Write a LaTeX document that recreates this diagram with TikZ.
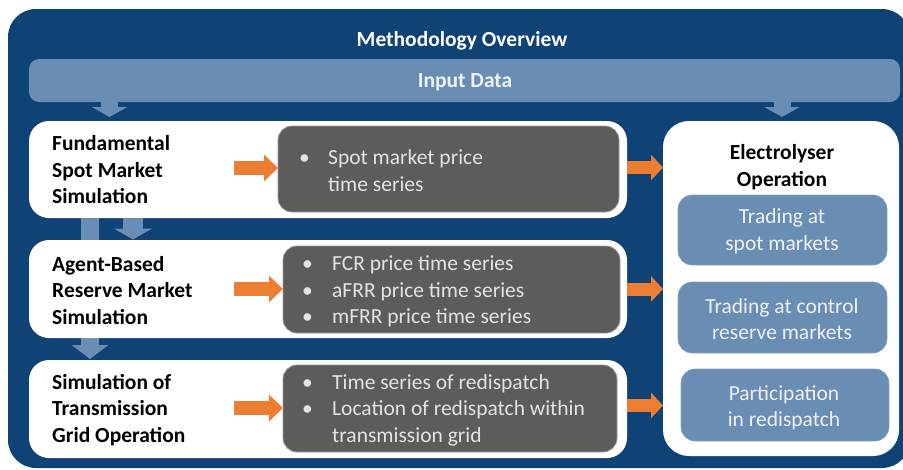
\documentclass[tikz,border=0pt]{standalone}
\usepackage{fontspec}
\setmainfont{Carlito}
\usetikzlibrary{arrows.meta,fit}
\definecolor{navy}{HTML}{0F4275}
\definecolor{steel}{HTML}{6A8DB4}
\definecolor{darkgrey}{HTML}{5D5C5A}
\definecolor{orng}{HTML}{ED7D31}
\definecolor{greytext}{HTML}{E3E3E3}
\definecolor{steeltext}{HTML}{EEF2F7}
\definecolor{edgegrey}{HTML}{9A9A9A}
\newcommand{\fs}{\fontsize{21.5}{26.5}\selectfont}
\begin{document}
\begin{tikzpicture}[x=1pt,y=-1pt,
  box/.style={inner sep=0pt, outer sep=0pt},
  whitebox/.style={box, fill=white, rounded corners=20pt},
  greybox/.style={box, fill=darkgrey, draw=edgegrey, line width=0.8pt, rounded corners=14pt},
  steelbox/.style={box, fill=steel, draw=steel!80!white, line width=0.6pt, rounded corners=14pt},
  lbl/.style={font=\fs\bfseries, align=left, anchor=west, text=black, inner sep=0pt},
  glist/.style={font=\fs, align=left, anchor=west, text=greytext, inner sep=0pt},
  stext/.style={font=\fs, align=center, text=steeltext, inner sep=0pt},
  orarrowA/.style={draw=orng, line width=14pt, -{Triangle[length=14pt,width=26pt]}, orng},
  orarrowB/.style={draw=orng, line width=13pt, -{Triangle[length=12pt,width=25pt]}, orng},
  inarrow/.style={draw=steel, line width=17pt, -{Triangle[length=10pt,width=35pt]}, steel},
]
\useasboundingbox (0,0) rectangle (903,469);
% outer frame
\node[box, fill=navy, rounded corners=28pt, fit={(8,9) (910,468)}] (outer) {};
\node[font=\fs\bfseries, text=white, inner sep=0pt] (title) at (462,41) {Methodology Overview};
% input bar
\node[box, fill=steel, rounded corners=10pt, fit={(29,59) (900,102)}] (input) {};
\node[font=\fs\bfseries, text=steeltext, inner sep=0pt] (inputtxt) at (465,82.5) {Input Data};
% coordinates for blue arrows
\coordinate (ia1) at (109.5,117);
\coordinate (ia2) at (782,117);
\coordinate (fa) at (133,239.5);
\coordinate (fg) at (90,359);
% white boxes
\node[whitebox, fit={(29,121) (627,218)}] (fund) {};
\node[whitebox, fit={(29,360) (627,458)}] (grid) {};
\node[whitebox, rounded corners=26pt, fit={(663,121) (899,456)}] (elec) {};
% blue arrows
\draw[inarrow] (input.south -| ia1) -- (ia1);
\draw[inarrow] (input.south -| ia2) -- (ia2);
\draw[steel, line width=20pt, -{Triangle[length=11pt,width=38pt]}] (fund.south -| fa) -- (fa);
\draw[steel, line width=18pt, -{Triangle[length=14pt,width=36pt]}] (fund.south -| fg) -- (fg);
\node[whitebox, fit={(29,240) (627,338)}] (agent) {};
% grey boxes
\node[greybox, fit={(278,126) (619,212)}] (fundg) {};
\node[greybox, fit={(283,246) (620,333)}] (agentg) {};
\node[greybox, fit={(283,365) (617,452)}] (gridg) {};
% steel sub boxes
\node[steelbox, fit={(678,195) (887,265)}] (sub1) {};
\node[steelbox, fit={(678,282) (887,353)}] (sub2) {};
\node[steelbox, fit={(681,369) (889,441)}] (sub3) {};
% orange arrows
\coordinate (o1) at (234,168);
\coordinate (o2) at (234,289);
\coordinate (o3) at (234,408);
\draw[orarrowA] (o1) -- (fundg.west |- o1);
\draw[orarrowA] (o2) -- (agentg.west |- o2);
\draw[orarrowA] (o3) -- (gridg.west |- o3);
\coordinate (r1) at (663,167.5);
\coordinate (r2) at (663,289);
\coordinate (r3) at (663,405.5);
\draw[orarrowB] (fund.east |- r1) -- (elec.west |- r1);
\draw[orarrowB] (agent.east |- r2) -- (elec.west |- r2);
\draw[orarrowB] (grid.east |- r3) -- (elec.west |- r3);
% labels
\node[lbl] (fundtxt) at (52,170) {Fundamental\\Spot Market\\Simulation};
\node[lbl] (agenttxt) at (52,290.5) {Agent-Based\\Reserve Market\\Simulation};
\node[lbl] (gridtxt) at (52,410) {Simulation of\\Transmission\\Grid Operation};
\node[glist] (fundl) at (299,170.5) {\makebox[29pt][l]{\textbullet}Spot market price\\\hspace*{29pt}time series};
\node[glist] (agentl) at (302,291.5) {\makebox[30pt][l]{\textbullet}FCR price time series\\\makebox[30pt][l]{\textbullet}aFRR price time series\\\makebox[30pt][l]{\textbullet}mFRR price time series};
\node[glist] (gridl) at (302,410) {\makebox[30pt][l]{\textbullet}Time series of redispatch\\\makebox[30pt][l]{\textbullet}Location of redispatch within\\\hspace*{30pt}transmission grid};
\node[font=\fs\bfseries, align=center, text=black, inner sep=0pt] (electxt) at (782,167) {Electrolyser\\Operation};
\node[stext] (s1t) at (782,231.5) {Trading at\\spot markets};
\node[stext] (s2t) at (782,319) {Trading at control\\reserve markets};
\node[stext] (s3t) at (784,408) {Participation\\in redispatch};
\end{tikzpicture}
\end{document}
